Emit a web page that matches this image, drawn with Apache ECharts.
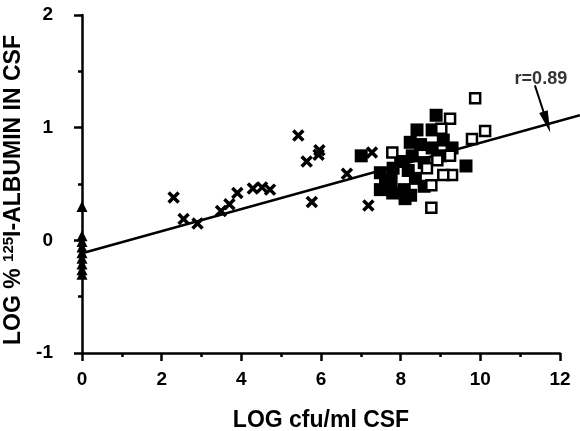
<!DOCTYPE html>
<html><head><meta charset="utf-8">
<script src="https://cdn.jsdelivr.net/npm/echarts@6/dist/echarts.min.js"></script>
<style>html,body{margin:0;padding:0;background:#fff}#c{width:580px;height:431px}</style>
</head><body><div id="c"></div>
<script>
// Tick labels
const xTicks = [0, 2, 4, 6, 8, 10, 12];
const yTicks = [-1, 0, 1, 2];
// Crosses (x)
const crossX = [2.30, 2.55, 2.90, 3.49, 3.70, 3.90, 4.29, 4.52, 4.72, 5.43, 5.64, 5.94, 5.96, 5.77, 6.65, 7.28, 7.19];
const crossY = [0.38, 0.19, 0.15, 0.26, 0.32, 0.42, 0.46, 0.47, 0.45, 0.93, 0.70, 0.76, 0.80, 0.34, 0.59, 0.78, 0.31];
// Triangles at x = 0
const triX = [0, 0, 0, 0, 0, 0, 0, 0, 0];
const triY = [0.30, 0.04, -0.01, -0.06, -0.11, -0.16, -0.21, -0.26, -0.30];
// Filled squares
const fillX = [7.01, 7.49, 7.49, 7.62, 7.81, 7.76, 7.80, 8.11, 8.09, 8.19, 8.37, 8.24, 8.29, 8.41, 8.89, 8.79, 9.07, 9.29, 8.79, 9.64, 8.59, 8.59, 8.00, 8.50, 9.00, 8.25];
const fillY = [0.75, 0.45, 0.60, 0.52, 0.64, 0.53, 0.42, 0.37, 0.45, 0.62, 0.55, 0.87, 0.75, 0.98, 1.11, 0.98, 0.89, 0.82, 0.82, 0.66, 0.48, 0.69, 0.70, 0.85, 0.75, 0.40];
// Open squares
const openX = [7.79, 9.24, 9.02, 9.79, 10.12, 9.87, 8.77, 8.77, 9.29, 9.07, 8.66, 8.92, 9.24];
const openY = [0.78, 1.08, 0.99, 0.90, 0.97, 1.26, 0.49, 0.29, 0.58, 0.58, 0.64, 0.71, 0.75];
// Regression line
const fitX = [0, 12.5];
const fitY = [-0.115, 1.11];
// Annotation
const rLabel = 'r=0.89';
const rPos = [11.52, 1.43];
const arrowFrom = [11.37, 1.375];
const arrowTo = [11.67, 1.05];

const zip = (a, b) => a.map((v, i) => [v, b[i]]);
const chart = echarts.init(document.getElementById('c'));
const font = 'Liberation Sans, Arial, Helvetica, sans-serif';
const W = 580, L = 82, R = 20;
const xMax = 12;
const xMax2 = (W - L) / ((W - L - R) / xMax);
const nameStyle = { fontFamily: font, fontSize: 23, fontWeight: 'bold', color: '#000' };
chart.setOption({
  animation: false,
  backgroundColor: '#fff',
  grid: [
    { left: L, right: R, top: 15, bottom: 78, containLabel: false, outerBoundsMode: 'none' },
    { left: L, right: 0, top: 15, bottom: 78, containLabel: false, outerBoundsMode: 'none' }
  ],
  xAxis: [{
    type: 'value', min: 0, max: xMax, interval: 2, gridIndex: 0,
    name: 'LOG cfu/ml CSF', nameLocation: 'middle', nameGap: 56,
    nameTextStyle: nameStyle,
    axisLine: { show: true, onZero: false, lineStyle: { color: '#000', width: 2.5 } },
    axisTick: { show: true, length: 8, lineStyle: { color: '#000', width: 2.5 } },
    minorTick: { show: true, splitNumber: 2, length: 4, lineStyle: { color: '#000', width: 2.5 } },
    axisLabel: { margin: 17, fontFamily: font, fontSize: 19, fontWeight: 'bold', color: '#000',
      formatter: v => xTicks.includes(v) ? String(v) : '' },
    splitLine: { show: false }
  }, {
    type: 'value', min: 0, max: xMax2, gridIndex: 1, show: false
  }],
  yAxis: [{
    type: 'value', min: -1, max: 2, interval: 1, gridIndex: 0,
    name: '{m|LOG % }{sup|125}{m|I-ALBUMIN IN CSF}', nameLocation: 'middle', nameGap: 48,
    nameTextStyle: Object.assign({}, nameStyle, {
      padding: [0, 12, 0, 0],
      rich: {
        m: nameStyle,
        sup: { fontFamily: font, fontSize: 15, fontWeight: 'bold', color: '#000', verticalAlign: 'top', padding: [0, 0, 10, 0] }
      }
    }),
    axisLine: { show: true, onZero: false, lineStyle: { color: '#000', width: 2.5 } },
    axisTick: { show: true, length: 8, lineStyle: { color: '#000', width: 2.5 } },
    minorTick: { show: true, splitNumber: 2, length: 4, lineStyle: { color: '#000', width: 2.5 } },
    axisLabel: { margin: 29, fontFamily: font, fontSize: 19, fontWeight: 'bold', color: '#000',
      formatter: v => yTicks.includes(v) ? String(v) : '' },
    splitLine: { show: false }
  }, {
    type: 'value', min: -1, max: 2, gridIndex: 1, show: false
  }],
  series: [
    { type: 'line', data: zip(fitX, fitY), symbol: 'none', xAxisIndex: 1, yAxisIndex: 1,
      lineStyle: { color: '#000', width: 2.5 }, z: 1 },
    { type: 'scatter', data: zip(crossX, crossY), clip: false,
      symbol: 'path://M0,0L10,10M0,10L10,0', symbolSize: 10,
      itemStyle: { color: 'none', borderColor: '#000', borderWidth: 3.5, opacity: 1 }, z: 2 },
    { type: 'scatter', data: zip(triX, triY), clip: false,
      symbol: 'triangle', symbolSize: [11, 11],
      itemStyle: { color: '#000', opacity: 1 }, z: 3 },
    { type: 'scatter', data: zip(fillX, fillY), clip: false,
      symbol: 'rect', symbolSize: 13,
      itemStyle: { color: '#000', opacity: 1 }, z: 4 },
    { type: 'scatter', data: zip(openX, openY), clip: false,
      symbol: 'rect', symbolSize: 10,
      itemStyle: { color: '#fff', borderColor: '#000', borderWidth: 2.5, opacity: 1 }, z: 5 },
    { type: 'scatter', data: [rPos], clip: false, symbolSize: 0, z: 6,
      label: { show: true, position: 'inside', formatter: rLabel,
        fontFamily: font, fontSize: 18, fontWeight: 'bold', color: '#000' },
      markLine: {
        silent: true, animation: false,
        symbol: ['none', 'triangle'], symbolSize: [9, 22],
        lineStyle: { color: '#000', width: 2, type: 'solid' },
        label: { show: false },
        data: [[{ coord: arrowFrom }, { coord: arrowTo }]]
      }
    }
  ]
});
</script></body></html>
